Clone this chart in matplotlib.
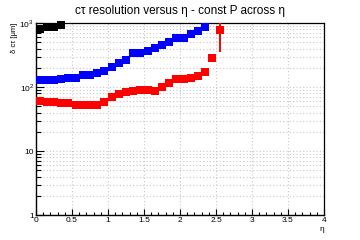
import matplotlib
matplotlib.use("Agg")
import matplotlib.pyplot as plt
from matplotlib.ticker import FixedLocator, FixedFormatter, NullFormatter

plt.rcParams['font.family'] = ['Liberation Sans', 'DejaVu Sans']
plt.rcParams['mathtext.fontset'] = 'custom'
plt.rcParams['mathtext.rm'] = 'Liberation Sans'

# bin centres in eta (bin width 0.1)
eta_black = [0.05, 0.15, 0.25, 0.35]
res_black = [820, 866, 866, 947]

eta_blue = [0.05, 0.15, 0.25, 0.35, 0.45, 0.55, 0.65, 0.75, 0.85, 0.95,
            1.05, 1.15, 1.25, 1.35, 1.45, 1.55, 1.65, 1.75, 1.85, 1.95,
            2.05, 2.15, 2.25, 2.35]
res_blue = [129, 129, 129, 135, 140, 140, 154, 154, 165, 178,
            205, 237, 264, 340, 345, 365, 407, 453, 505, 583,
            583, 673, 750, 865]

eta_red = [0.05, 0.15, 0.25, 0.35, 0.45, 0.55, 0.65, 0.75, 0.85, 0.95,
           1.05, 1.15, 1.25, 1.35, 1.45, 1.55, 1.65, 1.75, 1.85, 1.95,
           2.05, 2.15, 2.25, 2.35, 2.45, 2.55]
res_red = [60, 58, 58, 56, 57, 52, 52, 52, 52, 58,
           70, 78, 83, 87, 90, 90, 87, 100, 115, 133,
           133, 138, 148, 171, 284, 790]
err_red_lo = [0] * 25 + [440]
err_red_hi = [0] * 25 + [400]

x_ticks = [0, 0.5, 1, 1.5, 2, 2.5, 3, 3.5, 4]
x_labels = ['0', '0.5', '1', '1.5', '2', '2.5', '3', '3.5', '4']
y_ticks = [1, 10, 100, 1000]
y_labels = ['1', '10', '$10^2$', '$10^3$']

fig = plt.figure(figsize=(3.6, 2.4), dpi=100)
ax = fig.add_axes([0.1, 0.104, 0.8, 0.8])

ax.set_yscale('log')
ax.set_xlim(0, 4)
ax.set_ylim(1, 1000)

# grid: vertical at major x ticks, horizontal at every log tick
minor_y = [m * 10 ** d for d in range(0, 3) for m in range(2, 10)]
for x in x_ticks[1:-1]:
    ax.axvline(x, color='#c8c8c8', lw=0.8, ls=(0, (1, 2)), zorder=0)
for y in minor_y + [10, 100]:
    ax.axhline(y, color='#c8c8c8', lw=0.8, ls=(0, (1, 2)), zorder=0)

ms = 5.8
ax.errorbar(eta_red, res_red, yerr=[err_red_lo, err_red_hi], fmt='none',
            ecolor='red', elinewidth=1.4, capsize=0, zorder=3)
ax.plot(eta_black, res_black, 's', color='black', ms=ms, mew=0, clip_on=False, zorder=4)
ax.plot(eta_blue, res_blue, 's', color='blue', ms=ms, mew=0, clip_on=False, zorder=4)
ax.plot(eta_red, res_red, 's', color='red', ms=ms, mew=0, clip_on=False, zorder=4)

ax.xaxis.set_major_locator(FixedLocator(x_ticks))
ax.xaxis.set_major_formatter(FixedFormatter(x_labels))
ax.xaxis.set_minor_locator(FixedLocator([i / 10 for i in range(41)]))
ax.yaxis.set_major_locator(FixedLocator(y_ticks))
ax.yaxis.set_major_formatter(FixedFormatter(y_labels))
ax.yaxis.set_minor_locator(FixedLocator(minor_y))
ax.yaxis.set_minor_formatter(NullFormatter())

ax.tick_params(axis='both', which='both', direction='in', labelsize=6,
               width=0.8, color='black', top=False, right=False)
ax.tick_params(axis='x', which='major', length=4, pad=1.5)
ax.tick_params(axis='x', which='minor', length=2)
ax.tick_params(axis='y', which='major', length=6, pad=1.5)
ax.tick_params(axis='y', which='minor', length=3.5)

for side in ['left', 'bottom']:
    ax.spines[side].set_linewidth(1.0)
for side in ['top', 'right']:
    ax.spines[side].set_linewidth(0.9)
    ax.spines[side].set_linestyle((0, (2, 1)))

ax.set_xlabel('η', loc='right', fontsize=6, labelpad=1)
ax.set_ylabel('δ cτ [μm]', loc='top', fontsize=5.5, labelpad=1)
fig.text(0.5, 0.955, 'cτ resolution versus η - const P across η',
         ha='center', va='center', fontsize=8.5)

fig.savefig('out.png', dpi=100)
